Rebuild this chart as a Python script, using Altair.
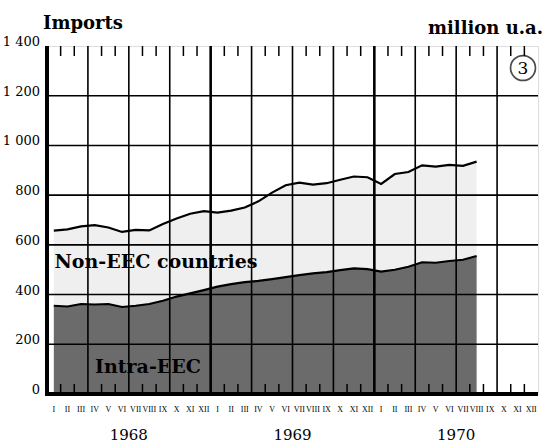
import altair as alt
import pandas as pd

# Monthly imports, January 1968 to August 1970 (million u.a.)
intra_eec = [355, 352, 362, 360, 362, 350, 355, 362, 375, 392, 405, 418,
             432, 442, 450, 455, 462, 470, 478, 485, 490, 498, 505, 502,
             492, 500, 512, 530, 528, 535, 540, 555]
non_eec = [302, 310, 312, 319, 308, 302, 305, 296, 309, 314, 320, 318,
           298, 296, 300, 320, 348, 370, 372, 357, 358, 364, 370, 370,
           353, 385, 381, 390, 387, 387, 378, 380]

month_names = ["I", "II", "III", "IV", "V", "VI", "VII", "VIII", "IX", "X", "XI", "XII"]
years = ["1968", "1969", "1970"]
y_ticks = [0, 200, 400, 600, 800, 1000, 1200, 1400]
y_tick_labels = ["0", "200", "400", "600", "800", "1 000", "1 200", "1 400"]

W, H = 491, 348
SERIF = "DejaVu Serif"
N_MONTHS = 12 * len(years)

series = pd.DataFrame({
    "t": [i + 0.5 for i in range(len(intra_eec))],
    "intra": intra_eec,
    "non": non_eec,
})
month_labels = pd.DataFrame({
    "t": [i + 0.5 for i in range(N_MONTHS)],
    "label": [month_names[i % 12] for i in range(N_MONTHS)],
})
year_labels = pd.DataFrame({"t": [12 * k + 6 for k in range(len(years))], "label": years})
y_labels = pd.DataFrame({"v": y_ticks, "label": y_tick_labels})
hgrid = pd.DataFrame({"v": y_ticks[1:-1]})
quarter_lines = pd.DataFrame({"t": [q for q in range(3, N_MONTHS, 3) if q % 12]})
year_lines = pd.DataFrame({"t": [q for q in range(12, N_MONTHS, 12)]})
month_ticks = pd.DataFrame({"t": [m for m in range(1, N_MONTHS) if m % 3]})

xs = alt.Scale(domain=[0, N_MONTHS], nice=False, zero=False)
ys = alt.Scale(domain=[0, 1400], nice=False)

base = alt.Chart(series).encode(x=alt.X("t:Q", scale=xs, axis=None))

intra_area = base.mark_area(color="#6b6b6b", opacity=1).encode(
    y=alt.Y("intra:Q", scale=ys, axis=None)
)
non_area = base.transform_calculate(total="datum.intra + datum.non").mark_area(
    color="#efefef", opacity=1
).encode(
    y=alt.Y("total:Q", scale=ys, axis=None),
    y2="intra:Q",
)
total_line = base.transform_calculate(total="datum.intra + datum.non").mark_line(
    color="black", strokeWidth=2.2
).encode(y=alt.Y("total:Q", scale=ys, axis=None))
intra_line = base.mark_line(color="black", strokeWidth=2.2).encode(
    y=alt.Y("intra:Q", scale=ys, axis=None)
)

h_rules = alt.Chart(hgrid).mark_rule(color="black", strokeWidth=1.6).encode(
    y=alt.Y("v:Q", scale=ys, axis=None)
)
q_rules = alt.Chart(quarter_lines).mark_rule(color="black", strokeWidth=1.6).encode(
    x=alt.X("t:Q", scale=xs, axis=None)
)
yr_rules = alt.Chart(year_lines).mark_rule(color="black", strokeWidth=2.6).encode(
    x=alt.X("t:Q", scale=xs, axis=None)
)
top_ticks = alt.Chart(month_ticks).mark_rule(color="black", strokeWidth=1.5).encode(
    x=alt.X("t:Q", scale=xs, axis=None),
    y=alt.value(0), y2=alt.value(10),
)
bottom_ticks = alt.Chart(month_ticks).mark_rule(color="black", strokeWidth=1.5).encode(
    x=alt.X("t:Q", scale=xs, axis=None),
    y=alt.value(H - 10), y2=alt.value(H),
)
left_axis = alt.Chart(pd.DataFrame({"a": [0]})).mark_rule(color="black", strokeWidth=4).encode(
    x=alt.value(0), y=alt.value(0), y2=alt.value(H + 2)
)
bottom_axis = alt.Chart(pd.DataFrame({"a": [0]})).mark_rule(color="black", strokeWidth=4).encode(
    x=alt.value(-2), x2=alt.value(W), y=alt.value(H)
)

y_text = alt.Chart(y_labels).mark_text(
    font=SERIF, fontSize=13, align="right", baseline="alphabetic", color="black"
).encode(
    y=alt.Y("v:Q", scale=ys, axis=None), x=alt.value(-7), text="label:N"
)
month_text = alt.Chart(month_labels).mark_text(
    font="Liberation Serif", fontSize=8, baseline="alphabetic", color="black",
).encode(
    x=alt.X("t:Q", scale=xs, axis=None), y=alt.value(H + 18), text="label:N"
)
year_text = alt.Chart(year_labels).mark_text(
    font=SERIF, fontSize=15, baseline="alphabetic", color="black"
).encode(
    x=alt.X("t:Q", scale=xs, axis=None), y=alt.value(H + 46), text="label:N"
)


def note(text, x, y, size, align="center", bold=True):
    return alt.Chart(pd.DataFrame({"label": [text]})).mark_text(
        font=SERIF, fontSize=size, fontWeight="bold" if bold else "normal",
        align=align, baseline="alphabetic", color="black",
    ).encode(x=alt.value(x), y=alt.value(y), text="label:N")


title_left = note("Imports", -4, -17.5, 18, align="left")
title_right = note("million u.a.", 496, -12.5, 18, align="right")
non_label = note("Non-EEC countries", 109, 222, 19)
intra_label = note("Intra-EEC", 101, 327, 19)

badge = alt.Chart(pd.DataFrame({"label": ["3"]})).mark_point(
    shape="circle", filled=False, size=620, color="black", strokeWidth=1.7
).encode(x=alt.value(476), y=alt.value(22))
badge_text = alt.Chart(pd.DataFrame({"label": ["3"]})).mark_text(
    font=SERIF, fontSize=17, baseline="middle", align="center", color="black"
).encode(x=alt.value(476), y=alt.value(23), text="label:N")

chart = alt.layer(
    intra_area, non_area,
    h_rules, q_rules, yr_rules,
    total_line, intra_line,
    top_ticks, bottom_ticks, left_axis, bottom_axis,
    y_text, month_text, year_text,
    title_left, title_right, non_label, intra_label,
    badge, badge_text,
).properties(
    width=W, height=H,
    autosize=alt.AutoSizeParams(type="none"),
    padding={"left": 47, "top": 46, "right": 8, "bottom": 49},
).configure_view(
    stroke="black", strokeWidth=2.5
).configure(background="white")

chart.save("out.html", embed_options={"renderer": "svg", "actions": False})
